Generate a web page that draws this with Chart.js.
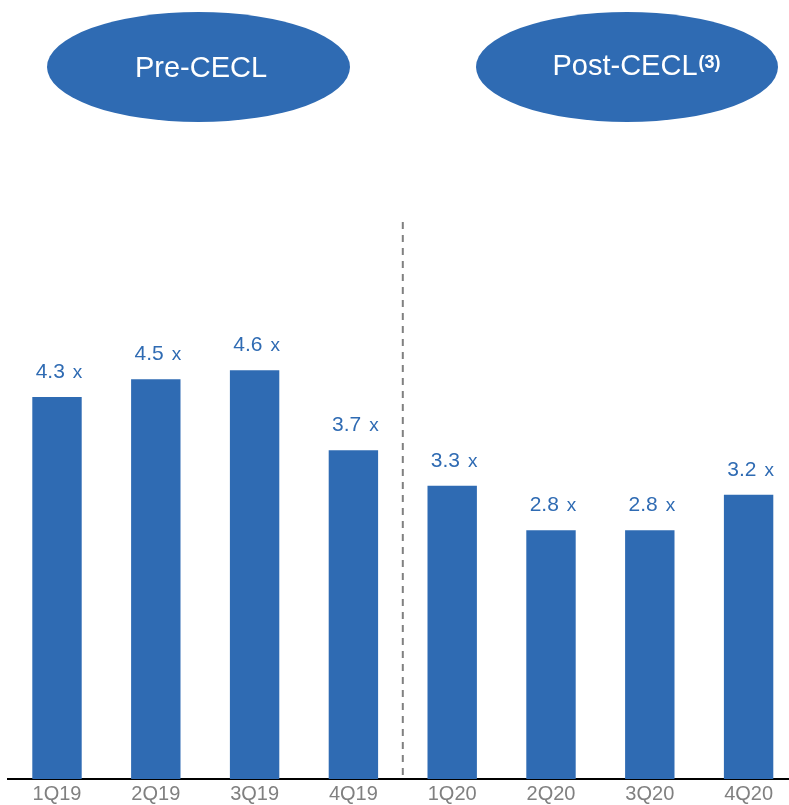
<!DOCTYPE html>
<html>
<head>
<meta charset="utf-8">
<script src="https://cdn.jsdelivr.net/npm/chart.js@4/dist/chart.umd.min.js"></script>
<style>
  html, body { margin: 0; padding: 0; background: #ffffff; overflow: hidden; }
  #wrap { width: 798px; height: 805px; }
</style>
</head>
<body>
<div id="wrap"><canvas id="chart" width="798" height="805"></canvas></div>
<script>
// Quarterly coverage ratios
const quarters = ['1Q19', '2Q19', '3Q19', '4Q19', '1Q20', '2Q20', '3Q20', '4Q20'];
const ratios = [4.3, 4.5, 4.6, 3.7, 3.3, 2.8, 2.8, 3.2];
const periodTitles = ['Pre-CECL', 'Post-CECL'];
const periodNote = '(3)';

const BLUE = '#2F6BB3';
const FONT = '"Liberation Sans", Arial, Helvetica, sans-serif';

// Value labels ("4.3 x") above each bar
const valueLabels = {
  id: 'valueLabels',
  afterDatasetsDraw(chart) {
    const ctx = chart.ctx;
    const meta = chart.getDatasetMeta(0);
    ctx.save();
    ctx.fillStyle = BLUE;
    ctx.textBaseline = 'alphabetic';
    ctx.textAlign = 'left';
    meta.data.forEach((bar, i) => {
      const num = ratios[i].toFixed(1);
      ctx.font = '21px ' + FONT;
      const wn = ctx.measureText(num).width;
      ctx.font = '19px ' + FONT;
      const wx = ctx.measureText('x').width;
      const gap = 8;
      const total = wn + gap + wx;
      const x0 = bar.x + 2 - total / 2;
      const y = bar.y - 19;
      ctx.font = '21px ' + FONT;
      ctx.fillText(num, x0, y);
      ctx.font = '19px ' + FONT;
      ctx.fillText('x', x0 + wn + gap, y);
    });
    ctx.restore();
  }
};

// Period divider and the two period badges
const periods = {
  id: 'periods',
  afterDraw(chart) {
    const ctx = chart.ctx;
    const xs = chart.scales.x;
    const area = chart.chartArea;
    const split = (xs.getPixelForValue(3) + xs.getPixelForValue(4)) / 2;

    ctx.save();
    ctx.strokeStyle = '#808080';
    ctx.lineWidth = 2;
    ctx.setLineDash([7, 6]);
    ctx.beginPath();
    ctx.moveTo(split, area.top);
    ctx.lineTo(split, area.bottom);
    ctx.stroke();
    ctx.setLineDash([]);

    // badges
    ctx.fillStyle = BLUE;
    ctx.beginPath();
    ctx.ellipse(198.5, 67, 151.5, 55, 0, 0, Math.PI * 2);
    ctx.fill();
    ctx.beginPath();
    ctx.ellipse(627, 67, 151, 55, 0, 0, Math.PI * 2);
    ctx.fill();

    ctx.fillStyle = '#ffffff';
    ctx.textBaseline = 'alphabetic';
    ctx.textAlign = 'center';
    ctx.font = '29px ' + FONT;
    ctx.fillText(periodTitles[0], 201, 77);

    ctx.textAlign = 'left';
    ctx.font = '29px ' + FONT;
    const wMain = ctx.measureText(periodTitles[1]).width;
    ctx.font = 'bold 18px ' + FONT;
    const wNote = ctx.measureText(periodNote).width;
    const start = 636 - (wMain + wNote) / 2;
    ctx.font = '29px ' + FONT;
    ctx.fillText(periodTitles[1], start, 75);
    ctx.font = 'bold 18px ' + FONT;
    ctx.fillText(periodNote, start + wMain + 1, 68);
    ctx.restore();
  }
};

new Chart(document.getElementById('chart'), {
  type: 'bar',
  data: {
    labels: quarters,
    datasets: [{
      data: ratios,
      backgroundColor: BLUE,
      borderWidth: 0,
      barPercentage: 0.5,
      categoryPercentage: 1.0
    }]
  },
  options: {
    responsive: false,
    animation: false,
    devicePixelRatio: 1,
    layout: { padding: { left: 7.6, right: 0, top: 222, bottom: 0 } },
    plugins: {
      legend: { display: false },
      tooltip: { enabled: false }
    },
    scales: {
      x: {
        grid: { display: false, drawTicks: false },
        border: { display: true, color: '#000000', width: 2 },
        ticks: {
          color: '#808080',
          font: { family: FONT, size: 20 },
          padding: 3,
          maxRotation: 0,
          autoSkip: false
        },
        afterFit(scale) { scale.height = 26; }
      },
      y: {
        display: false,
        min: 0,
        max: 6.27
      }
    }
  },
  plugins: [valueLabels, periods]
});
</script>
</body>
</html>
